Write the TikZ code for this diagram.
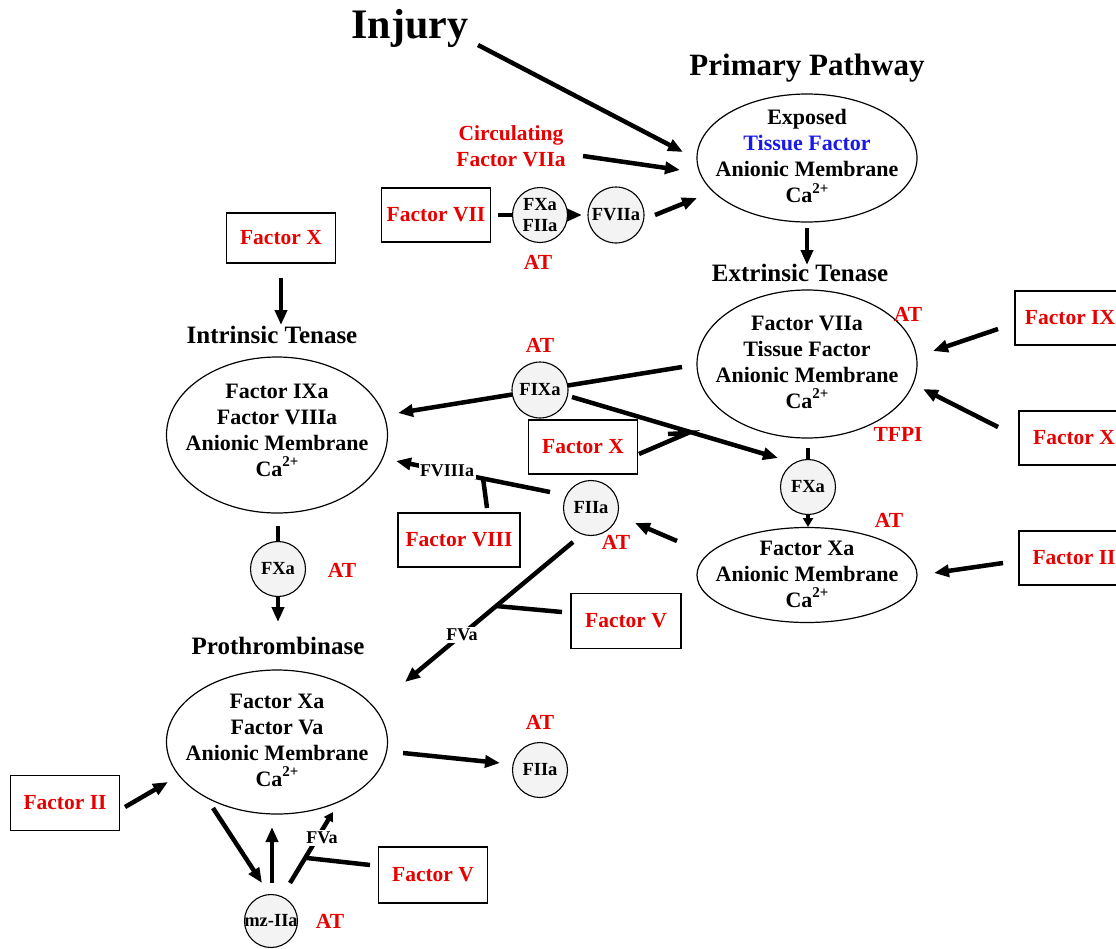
\documentclass[tikz,border=0pt]{standalone}
\usepackage{fontspec}
\setmainfont{Liberation Serif}
\usetikzlibrary{shapes.geometric,arrows.meta}
\definecolor{fred}{RGB}{232,0,0}
\definecolor{fblue}{RGB}{25,25,235}
\definecolor{cfill}{RGB}{243,243,243}
\newcommand{\catwo}{Ca\raisebox{0.42em}{\fontsize{15}{15}\selectfont 2+}}
\begin{document}
\begin{tikzpicture}[x=1pt,y=-1pt,
  cplx/.style={draw, line width=1.2pt, ellipse, inner sep=0pt},
  ctext/.style={font=\fontsize{22}{26}\selectfont\bfseries, align=center, inner sep=0pt},
  fbox/.style={draw, line width=1.3pt, minimum width=109pt, minimum height=54pt, text=fred,
    font=\fontsize{21.5}{26}\selectfont\bfseries, inner sep=0pt},
  enz/.style={draw, circle, fill=cfill, line width=1.1pt, minimum size=55pt, inner sep=0pt,
    font=\fontsize{18.5}{21}\selectfont\bfseries, align=center},
  head/.style={font=\fontsize{25}{30}\selectfont\bfseries, inner sep=0pt},
  redtxt/.style={text=fred, font=\fontsize{21.5}{26}\selectfont\bfseries, align=center, inner sep=0pt},
  sm/.style={font=\fontsize{18}{20}\selectfont\bfseries, fill=white, inner sep=1.5pt},
  arr/.style={line width=4.5pt, -{Triangle[length=15pt,width=12pt]}},
  sarr/.style={line width=4.5pt, -{Triangle[length=9pt,width=10pt]}},
  ln/.style={line width=4.5pt},
]
\clip (0,0) rectangle (1116,948);
\fill[white] (0,0) rectangle (1116,948);

% connector end points
\coordinate (injS) at (478,45);   \coordinate (injE) at (683,152);
\coordinate (circS) at (583,156); \coordinate (circE) at (680,170);
\coordinate (f7S) at (498,215);   \coordinate (f7E) at (582,215);
\coordinate (f7aS) at (655,215);  \coordinate (f7aE) at (697,198);
\coordinate (primS) at (807,228); \coordinate (primE) at (807,265);
\coordinate (f9S) at (998,329);   \coordinate (f9E) at (933,351);
\coordinate (f10S) at (998,427);  \coordinate (f10E) at (923,389);
\coordinate (f2S) at (1003,563);  \coordinate (f2E) at (934,573);
\coordinate (extS) at (682,367);  \coordinate (extE) at (398,413);
\coordinate (f9aS) at (572,397);  \coordinate (f9aE) at (778,458);
\coordinate (fxmS) at (639,454);  \coordinate (fxmE) at (688,433);  \coordinate (fxmT) at (668,434);
\coordinate (xa1S) at (808,448);  \coordinate (xa1E) at (808,527);
\coordinate (xa2S) at (278,526);  \coordinate (xa2E) at (278,622);
\coordinate (xaS) at (677,541);   \coordinate (xaE) at (635,523);
\coordinate (f8aS) at (550,492);  \coordinate (f8aE) at (396,461);
\coordinate (f8S) at (487,508);   \coordinate (f8E) at (483,478);
\coordinate (f5aS) at (573,542);  \coordinate (f5aE) at (405,682);
\coordinate (f5mS) at (562,612);  \coordinate (f5mE) at (496,606);
\coordinate (fxtS) at (281,278);  \coordinate (fxtE) at (281,325);
\coordinate (proS) at (403,753);  \coordinate (proE) at (500,763);
\coordinate (f2lS) at (125,807);  \coordinate (f2lE) at (168,782);
\coordinate (mzinS) at (213,808); \coordinate (mzinE) at (262,883);
\coordinate (mzS) at (272,883);   \coordinate (mzE) at (272,827);
\coordinate (mz5S) at (290,883);  \coordinate (mz5E) at (333,812);
\coordinate (f5lS) at (370,865);  \coordinate (f5lE) at (307,858);

% connectors
\draw[arr] (injS) -- (injE);
\draw[arr] (circS) -- (circE);
\draw[arr] (f7S) -- (f7E);
\draw[arr] (f7aS) -- (f7aE);
\draw[arr] (primS) -- (primE);
\draw[arr] (f9S) -- (f9E);
\draw[arr] (f10S) -- (f10E);
\draw[arr] (f2S) -- (f2E);
\draw[arr] (extS) -- (extE);
\draw[arr] (f9aS) -- (f9aE);
\draw[ln] (fxmS) -- (fxmE) -- (fxmT);
\draw[sarr] (xa1S) -- (xa1E);
\draw[arr] (xa2S) -- (xa2E);
\draw[arr] (xaS) -- (xaE);
\draw[arr] (f8aS) -- (f8aE);
\draw[ln] (f8S) -- (f8E);
\draw[arr] (f5aS) -- (f5aE);
\draw[ln] (f5mS) -- (f5mE);
\draw[arr] (fxtS) -- (fxtE);
\draw[arr] (proS) -- (proE);
\draw[arr] (f2lS) -- (f2lE);
\draw[arr] (mzinS) -- (mzinE);
\draw[arr] (mzS) -- (mzE);
\draw[sarr] (mz5S) -- (mz5E);
\draw[ln] (f5lS) -- (f5lE);

% headings
\node[font=\fontsize{42}{48}\selectfont\bfseries, inner sep=0pt] (inj) at (410,28) {Injury};
\node[font=\fontsize{31}{36}\selectfont\bfseries, inner sep=0pt] (pp) at (807,68) {Primary Pathway};
\node[head] (et) at (800,273) {Extrinsic Tenase};
\node[head] (it) at (272,335) {Intrinsic Tenase};
\node[head] (pt) at (278,646) {Prothrombinase};

% complexes
\node[cplx, minimum width=220pt, minimum height=128pt] (prim) at (807,158) {};
\node[ctext] (primT) at (807,156) {Exposed\\\textcolor{fblue}{Tissue Factor}\\Anionic Membrane\\\catwo};
\node[cplx, minimum width=220pt, minimum height=148pt] (ext) at (807,364) {};
\node[ctext] (extT) at (807,362) {Factor VIIa\\Tissue Factor\\Anionic Membrane\\\catwo};
\node[cplx, minimum width=220pt, minimum height=95pt] (xa) at (807,575) {};
\node[ctext] (xaT) at (807,574) {Factor Xa\\Anionic Membrane\\\catwo};
\node[cplx, minimum width=221pt, minimum height=156pt] (intr) at (277,435) {};
\node[ctext] (intrT) at (277,430) {Factor IXa\\Factor VIIIa\\Anionic Membrane\\\catwo};
\node[cplx, minimum width=221pt, minimum height=144pt] (pro) at (277,742) {};
\node[ctext] (proT) at (277,740) {Factor Xa\\Factor Va\\Anionic Membrane\\\catwo};

% factor boxes
\node[fbox, minimum width=110pt] (fIX) at (1070,318) {Factor IX};
\node[fbox, minimum width=110pt] (fXr) at (1074,438) {Factor X};
\node[fbox, minimum width=110pt] (fIIr) at (1074,558) {Factor II};
\node[fbox] (fVII) at (436,215) {Factor VII};
\node[fbox, minimum height=50pt] (fXt) at (281,238) {Factor X};
\node[fbox] (fXm) at (583,447) {Factor X};
\node[fbox, minimum width=122pt] (fVIII) at (459,540) {Factor VIII};
\node[fbox, minimum width=110pt, minimum height=55pt] (fVm) at (626,621) {Factor V};
\node[fbox, minimum height=55pt] (fIIl) at (65,803) {Factor II};
\node[fbox, minimum height=56pt] (fVl) at (433,875) {Factor V};

% enzymes
\node[enz] (fxfii) at (540,215) {FXa\\FIIa};
\node[enz, minimum size=56pt] (fviia) at (616,215) {FVIIa};
\node[enz, minimum size=56pt] (fixa) at (540,390) {FIXa};
\node[enz] (fxa1) at (808,487) {FXa};
\node[enz] (fiia1) at (591,508) {FIIa};
\node[enz] (fxa2) at (278,569) {FXa};
\node[enz] (fiia2) at (540,770) {FIIa};
\node[enz, minimum size=53pt, inner sep=-8pt] (mz) at (271,921) {mz-IIa};

% small labels on connectors
\node[sm] (fviiia) at (447,471) {FVIIIa};
\node[sm] (fva1) at (462,635) {FVa};
\node[sm] (fva2) at (322,838) {FVa};

% red labels
\node[redtxt] (circ) at (511,146) {Circulating\\Factor VIIa};
\node[redtxt] (at0) at (538,262) {AT};
\node[redtxt] (at1) at (908,314) {AT};
\node[redtxt] (tfpi) at (898,434) {TFPI};
\node[redtxt] (at2) at (540,345) {AT};
\node[redtxt] (at3) at (889,520) {AT};
\node[redtxt] (at4) at (616,542) {AT};
\node[redtxt] (at5) at (342,570) {AT};
\node[redtxt] (at6) at (540,722) {AT};
\node[redtxt] (at7) at (330,921) {AT};
\end{tikzpicture}
\end{document}
